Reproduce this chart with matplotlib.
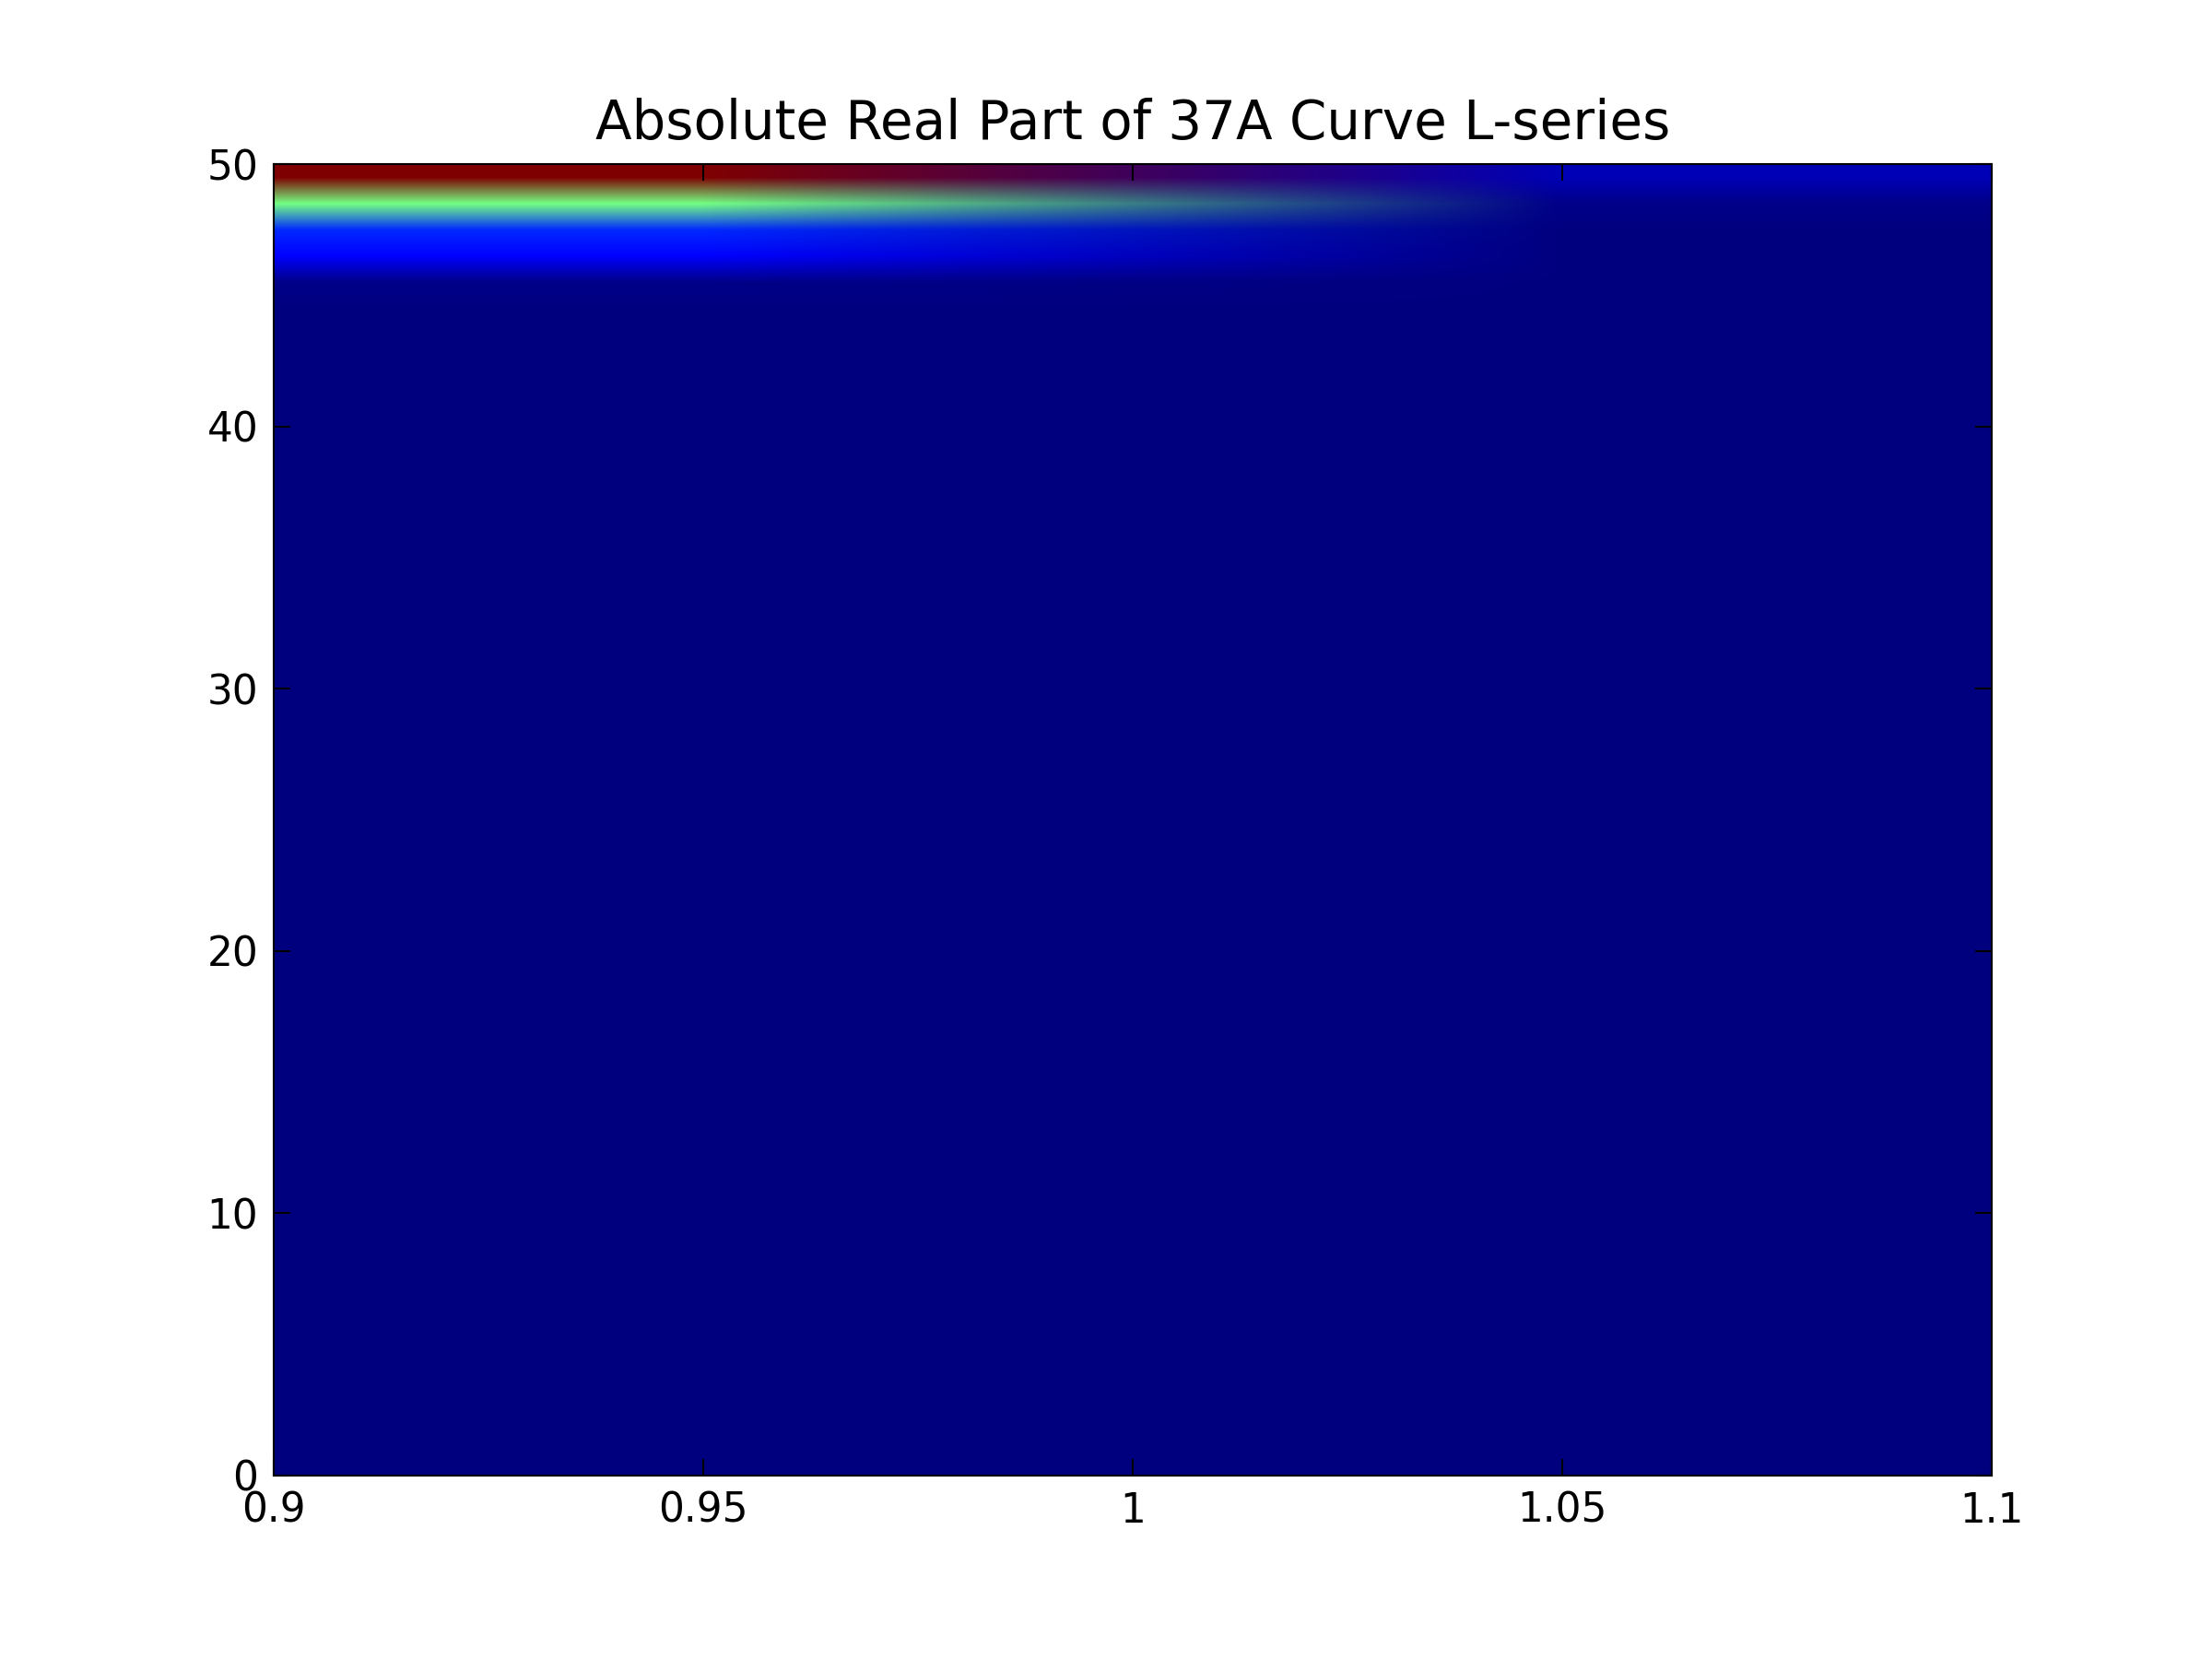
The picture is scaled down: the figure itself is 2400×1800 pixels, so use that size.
import numpy as np
import matplotlib
matplotlib.use("Agg")
import matplotlib.pyplot as plt

# Grid of |Re L(s)| values (normalised, 0 = vmin, 1 = vmax)
# rows go from t = 0.5 (bottom) up to t = 49.5 (top), one column per sigma cell
sigma_edges = [0.9, 1.1]
t_edges = [0, 50]

left_col = [
    0.0, 0.0, 0.0, 0.0, 0.0, 0.0, 0.0, 0.0, 0.0, 0.0,
    0.0, 0.0, 0.0, 0.0, 0.0, 0.0, 0.0, 0.0, 0.0, 0.0,
    0.0, 0.0, 0.0, 0.0, 0.0, 0.0, 0.0, 0.0, 0.0, 0.0,
    0.0, 0.0, 0.0, 0.0, 0.0, 0.0, 0.0, 0.0, 0.0, 0.0,
    0.0, 0.0, 0.0, 0.0, 0.0, 0.011, 0.115, 0.165, 0.49, 1.0,
]
right_col = [
    0.0, 0.0, 0.0, 0.0, 0.0, 0.0, 0.0, 0.0, 0.0, 0.0,
    0.0, 0.0, 0.0, 0.0, 0.0, 0.0, 0.0, 0.0, 0.0, 0.0,
    0.0, 0.0, 0.0, 0.0, 0.0, 0.0, 0.0, 0.0, 0.0, 0.0,
    0.0, 0.0, 0.0, 0.0, 0.0, 0.0, 0.0, 0.0, 0.0, 0.0,
    0.0, 0.0, 0.0, 0.0, 0.0, 0.0, 0.0, 0.003, 0.011, 0.048,
]

xticks = [0.9, 0.95, 1.0, 1.05, 1.1]
xticklabels = ["0.9", "0.95", "1", "1.05", "1.1"]
yticks = [0, 10, 20, 30, 40, 50]

grid = np.column_stack([left_col, right_col])

fig = plt.figure(figsize=(8, 6), dpi=300)
ax = fig.add_axes([297 / 2400, 1 - 1601 / 1800, (2161 - 297) / 2400, (1601 - 178) / 1800])

ax.imshow(grid, cmap="jet", origin="lower", aspect="auto",
          extent=[sigma_edges[0], sigma_edges[1], t_edges[0], t_edges[1]],
          interpolation="bilinear", interpolation_stage="rgba")

ax.set_xlim(0.9, 1.1)
ax.set_ylim(0, 50)
ax.set_xticks(xticks)
ax.set_xticklabels(xticklabels)
ax.set_yticks(yticks)
ax.tick_params(direction="in", length=4.3, width=0.5, labelsize=10.5, pad=4,
               top=True, right=True)
for s in ax.spines.values():
    s.set_linewidth(0.5)

ax.set_title("Absolute Real Part of 37A Curve L-series", fontsize=13.9, pad=6.5)

fig.savefig("out.png", dpi=300)
